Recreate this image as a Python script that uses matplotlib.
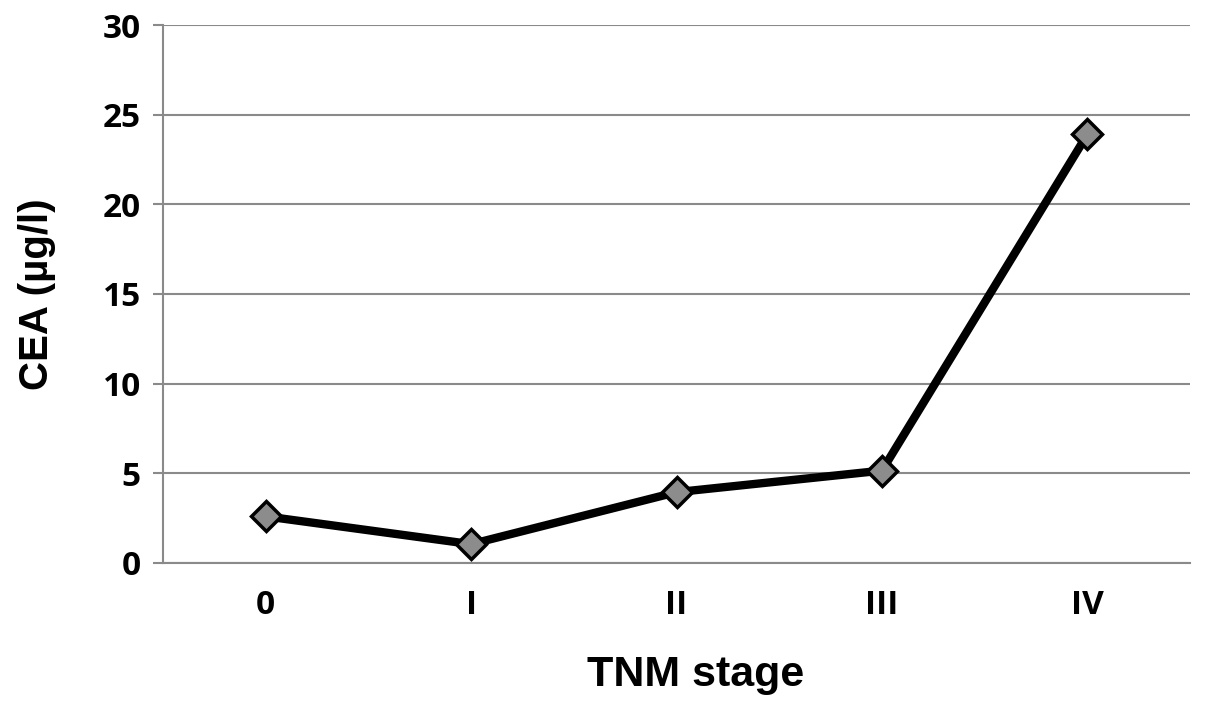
import matplotlib
matplotlib.use("Agg")
import matplotlib.pyplot as plt

# data
stages = ["0", "I", "II", "III", "IV"]
cea = [2.6, 1.05, 3.95, 5.15, 23.9]

grid_color = "#8a8a8a"

fig = plt.figure(figsize=(12.05, 7.11), dpi=100)
ax = fig.add_axes([0.1353, 0.2082, 0.8523, 0.7566])

x = list(range(len(stages)))
ax.plot(x, cea, color="black", lw=6, marker="D", markersize=15,
        markerfacecolor="#8c8c8c", markeredgecolor="black", markeredgewidth=2.5,
        zorder=3, clip_on=False)

ax.set_xlim(-0.5, len(stages) - 0.5)
ax.set_ylim(0, 30)
ax.set_yticks(range(0, 31, 5))
ax.set_xticks(x)
ax.set_xticklabels(stages)

ax.yaxis.grid(True, color=grid_color, lw=1.5)
ax.set_axisbelow(True)
for side in ("top", "right"):
    ax.spines[side].set_visible(False)
for side in ("left", "bottom"):
    ax.spines[side].set_color(grid_color)
    ax.spines[side].set_linewidth(1.5)

ax.tick_params(axis="y", length=7, width=1.5, color=grid_color, pad=9)
ax.tick_params(axis="x", length=0, pad=19)
for lab in ax.get_xticklabels() + ax.get_yticklabels():
    lab.set_fontfamily("Open Sans")
    lab.set_fontweight("bold")
    lab.set_fontsize(24)

ax.set_xlabel("TNM stage", family="Liberation Sans", weight="bold", size=31)
ax.set_ylabel("CEA (µg/l)", family="Liberation Sans", weight="bold", size=29)
ax.xaxis.set_label_coords(0.519, -0.171)
ax.yaxis.set_label_coords(-0.104, 0.5)

fig.savefig("out.png", dpi=100, facecolor="white")
